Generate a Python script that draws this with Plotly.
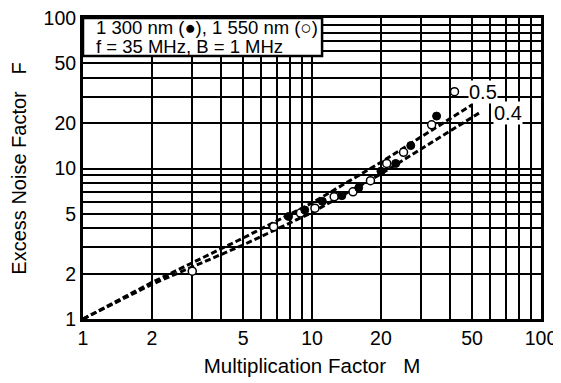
import numpy as np
import plotly.graph_objects as go

# 1300 nm (filled circles)
m_1300 = [7.9, 9.3, 11.1, 13.5, 16.0, 20.0, 23.2, 27.0, 35.0]
f_1300 = [4.8, 5.3, 6.05, 6.6, 7.45, 9.6, 10.8, 14.2, 22.3]
# 1550 nm (open circles)
m_1550 = [3.0, 6.8, 8.9, 10.3, 12.5, 15.1, 18.0, 21.2, 25.1, 33.3, 41.9]
f_1550 = [2.08, 4.1, 5.06, 5.45, 6.5, 7.0, 8.3, 10.8, 12.8, 19.5, 32.4]

# dashed reference lines
m_k05 = [1, 2, 5, 10, 20, 50]
f_k05 = [1, 1.75, 3.45, 5.9, 11.0, 26.5]
m_k04 = [1, 2, 5, 10, 20, 54]
f_k04 = [1, 1.7, 3.1, 5.1, 9.2, 23.5]

tick_labels = {1: "1", 2: "2", 5: "5", 10: "10", 20: "20", 50: "50", 100: "100"}
grid_vals = [1, 2, 3, 4, 5, 6, 7, 8, 9, 10, 20, 30, 40, 50, 60, 70, 80, 90, 100]
grid_text = [tick_labels.get(v, "") for v in grid_vals]

legend_lines = ["1 300 nm (●), 1 550 nm (○)", "f = 35 MHz, B = 1 MHz"]

FONT = "Liberation Sans, Arial, sans-serif"
NB = "\u00a0"

fig = go.Figure()
fig.add_trace(go.Scatter(x=m_k05, y=f_k05, mode="lines",
                         line=dict(color="black", width=3, dash="6px,3px"), showlegend=False))
fig.add_trace(go.Scatter(x=m_k04, y=f_k04, mode="lines",
                         line=dict(color="black", width=3, dash="6px,3px"), showlegend=False))
fig.add_trace(go.Scatter(x=m_1550, y=f_1550, mode="markers",
                         marker=dict(symbol="circle", size=8, color="white",
                                     line=dict(color="black", width=1.5)), showlegend=False))
fig.add_trace(go.Scatter(x=m_1300, y=f_1300, mode="markers",
                         marker=dict(symbol="circle", size=8, color="black",
                                     line=dict(color="black", width=1)), showlegend=False))

axis_common = dict(
    type="log", range=[0, 2], tickvals=grid_vals, ticktext=grid_text,
    showgrid=True, gridcolor="black", gridwidth=1.8,
    showline=True, linecolor="black", linewidth=3, mirror=True,
    ticks="", tickfont=dict(family=FONT, size=19.5, color="black"),
    zeroline=False, automargin=False, ticklabeloverflow="allow",
)

fig.update_layout(
    width=561, height=383,
    margin=dict(l=75, r=28, t=10, b=72),
    paper_bgcolor="white", plot_bgcolor="white",
    xaxis=dict(**axis_common,
               title=dict(text="Multiplication Factor" + NB * 3 + "M",
                          font=dict(family=FONT, size=20.5, color="black"), standoff=11)),
    yaxis=dict(**axis_common,
               title=dict(text="Excess Noise Factor" + NB * 3 + "F",
                          font=dict(family=FONT, size=20, color="black"), standoff=19)),
    shapes=[dict(type="rect", xref="paper", yref="paper", x0=0, x1=0.522, y0=0.874, y1=1,
                 fillcolor="white", line=dict(color="black", width=2.5), layer="above")],
    annotations=[
        dict(xref="paper", yref="paper", x=0.024, y=0.970, xanchor="left", yanchor="middle",
             text=legend_lines[0], showarrow=False,
             font=dict(family=FONT, size=18.5, color="black")),
        dict(xref="paper", yref="paper", x=0.024, y=0.906, xanchor="left", yanchor="middle",
             text=legend_lines[1], showarrow=False,
             font=dict(family=FONT, size=18.5, color="black")),
        dict(x=np.log10(56), y=np.log10(32), text="0.5", showarrow=False,
             font=dict(family=FONT, size=20, color="black"), bgcolor="white", borderpad=0),
        dict(x=np.log10(72), y=np.log10(23.5), text="0.4", showarrow=False,
             font=dict(family=FONT, size=20, color="black"), bgcolor="white", borderpad=0),
    ],
)

fig.write_html("out.html")
